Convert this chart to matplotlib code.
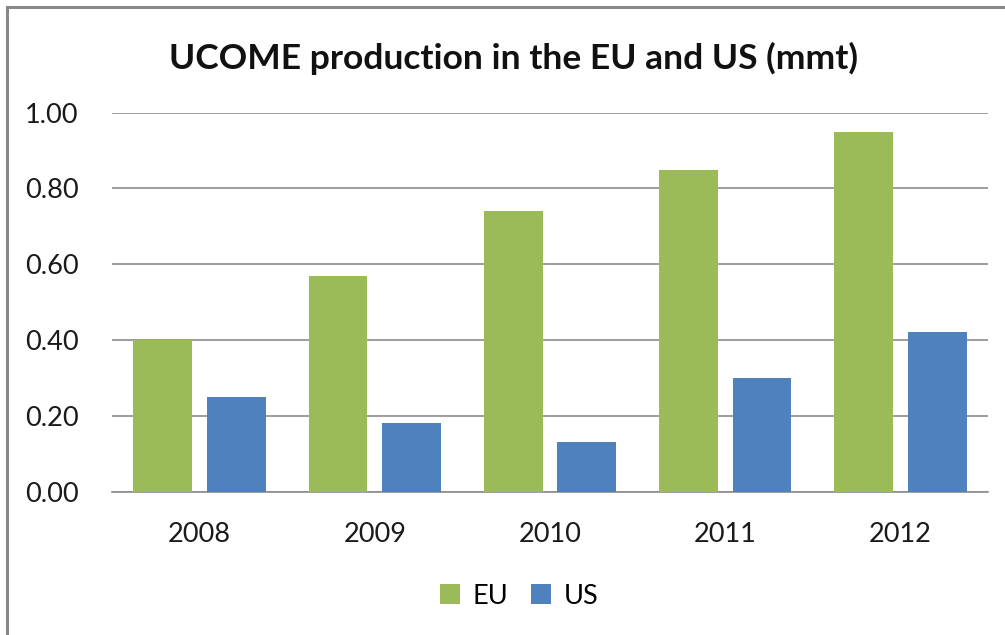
import numpy as np
import matplotlib.pyplot as plt
from matplotlib.patches import Rectangle

years = ['2008', '2009', '2010', '2011', '2012']
eu_values = [0.40, 0.57, 0.74, 0.85, 0.95]
us_values = [0.25, 0.18, 0.13, 0.30, 0.42]

green = '#9BBB59'
blue = '#4F81BD'
grid_grey = '#8C8C8C'

plt.rcParams['font.family'] = ['Lato', 'DejaVu Sans']

fig = plt.figure(figsize=(10.05, 6.35), dpi=100)
ax = fig.add_axes([112 / 1005, 1 - 491.5 / 635, 876 / 1005, 378.8 / 635])

x = np.arange(len(years))
width = 0.335
ax.bar(x - 0.21, eu_values, width, color=green, label='EU', zorder=3)
ax.bar(x + 0.21, us_values, width, color=blue, label='US', zorder=3)

ax.set_xlim(-0.5, len(years) - 0.5)
ax.set_ylim(0, 1.0)
ax.set_yticks(np.arange(0, 1.01, 0.2))
ax.set_yticklabels([f'{v:.2f}' for v in np.arange(0, 1.01, 0.2)])
ax.set_xticks(x)
ax.set_xticklabels(years)
ax.tick_params(axis='both', length=0, labelsize=19.5, colors='#1a1a1a')
ax.tick_params(axis='y', pad=24)
ax.tick_params(axis='x', pad=22)

ax.grid(axis='y', color=grid_grey, linewidth=1.2, zorder=0)
for side in ['top', 'right', 'left']:
    ax.spines[side].set_visible(False)
ax.spines['bottom'].set_color(grid_grey)
ax.spines['bottom'].set_linewidth(1.2)

fig.text(513 / 1005, 1 - 58 / 635, 'UCOME production in the EU and US (mmt)',
         ha='center', va='center', fontsize=25.5, fontweight='bold', color='#111111')

leg = fig.legend(loc='center', bbox_to_anchor=(519 / 1005, 1 - 596 / 635),
                 ncol=2, frameon=False, fontsize=19.5, handlelength=0.75,
                 handleheight=0.75, handletextpad=0.45, columnspacing=0.85)

# outer chart frame, only top and left edges fall inside the image
fig.patches.append(Rectangle((6.5 / 1005, -0.1), 1.2, 1 - 7.5 / 635 + 0.1,
                             transform=fig.transFigure, fill=False,
                             edgecolor='#888888', linewidth=2.2))

fig.savefig('out.png', dpi=100)
